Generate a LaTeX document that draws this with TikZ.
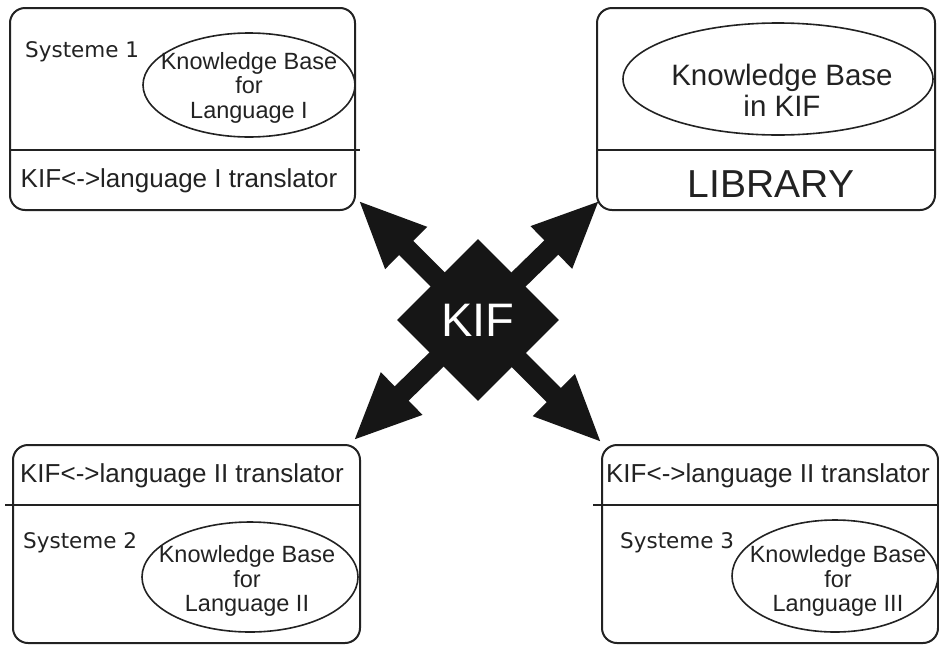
\documentclass[tikz,border=0pt]{standalone}
\usepackage{fontspec}
\setmainfont{Liberation Sans}
\newfontfamily\handfont{DejaVu Sans}
\usetikzlibrary{shapes.geometric,arrows.meta}
\definecolor{ink}{HTML}{222222}
\definecolor{solid}{HTML}{161616}
\tikzset{
  panel/.style={draw=ink, line width=2pt, rounded corners=15pt, inner sep=0pt},
  divider/.style={draw=ink, line width=2pt},
  kbase/.style={draw=ink, ellipse, line width=1.6pt, inner sep=0pt},
  kbtext/.style={align=center, inner sep=0pt, text=ink, font=\fontsize{23.5}{24.5}\selectfont},
  syslabel/.style={anchor=west, inner sep=0pt, text=ink, font=\handfont\fontsize{21.5}{24}\selectfont},
  translabel/.style={anchor=base, inner sep=0pt, text=ink, font=\fontsize{26}{30}\selectfont},
  link/.style={draw=solid, line width=20pt,
    {Triangle[length=68pt,width=54pt]}-{Triangle[length=68pt,width=54pt]}},
  hub/.style={diamond, aspect=1, fill=solid, minimum size=162pt, inner sep=0pt,
    text=white, font=\fontsize{47}{50}\selectfont},
}
\begin{document}
\begin{tikzpicture}[x=1pt, y=-1pt]
  \useasboundingbox (0,0) rectangle (939,646);

  % ---- the four system panels ----
  \node[panel, minimum width=345pt, minimum height=202pt] (sys1) at (182.5,109) {};
  \node[panel, minimum width=338pt, minimum height=202pt] (lib)  at (766,109) {};
  \node[panel, minimum width=347pt, minimum height=198pt] (sys2) at (186.5,544) {};
  \node[panel, minimum width=336pt, minimum height=198pt] (sys3) at (770,544) {};

  % dividers between knowledge base and translator parts
  \draw[divider] (10,150) -- (360,150);
  \draw[divider] (597,150) -- (935,150);
  \draw[divider] (5,505) -- (360,505);
  \draw[divider] (593,505) -- (939,505);

  % ---- system 1 ----
  \node[syslabel] (name1) at (25,52) {Systeme 1};
  \node[kbase, minimum width=212pt, minimum height=104pt] (kb1) at (249,85) {};
  \node[kbtext] (kbt1) at (249,87.5) {Knowledge Base\\for\\Language I};
  \node[translabel] (tr1) at (179,187) {KIF<->language I translator};

  % ---- library ----
  \node[kbase, minimum width=310pt, minimum height=112pt] (kbl) at (778,79) {};
  \node[align=center, inner sep=0pt, text=ink, font=\fontsize{29.5}{31}\selectfont]
    (kbtl) at (782,90) {Knowledge Base\\in KIF};
  \node[anchor=base, inner sep=0pt, text=ink, font=\fontsize{39}{42}\selectfont]
    (libname) at (771,197) {LIBRARY};

  % ---- system 2 ----
  \node[translabel] (tr2) at (182,482) {KIF<->language II translator};
  \node[syslabel] (name2) at (23,543) {Systeme 2};
  \node[kbase, minimum width=216pt, minimum height=110pt] (kb2) at (250,577) {};
  \node[kbtext] (kbt2) at (247,581) {Knowledge Base\\for\\Language II};

  % ---- system 3 ----
  \node[translabel] (tr3) at (768,482) {KIF<->language II translator};
  \node[syslabel] (name3) at (620,543) {Systeme 3};
  \node[kbase, minimum width=206pt, minimum height=112pt] (kb3) at (835,576) {};
  \node[kbtext] (kbt3) at (838,581) {Knowledge Base\\for\\Language III};

  % ---- KIF hub with its two crossing double arrows ----
  \coordinate (tipA) at (358,200);
  \coordinate (tipB) at (602,443);
  \coordinate (tipC) at (600,200);
  \coordinate (tipD) at (353,441);
  \draw[link] (tipA) -- (tipB);
  \draw[link] (tipC) -- (tipD);
  \node[hub] (kif) at (478,320) {KIF};
\end{tikzpicture}
\end{document}
